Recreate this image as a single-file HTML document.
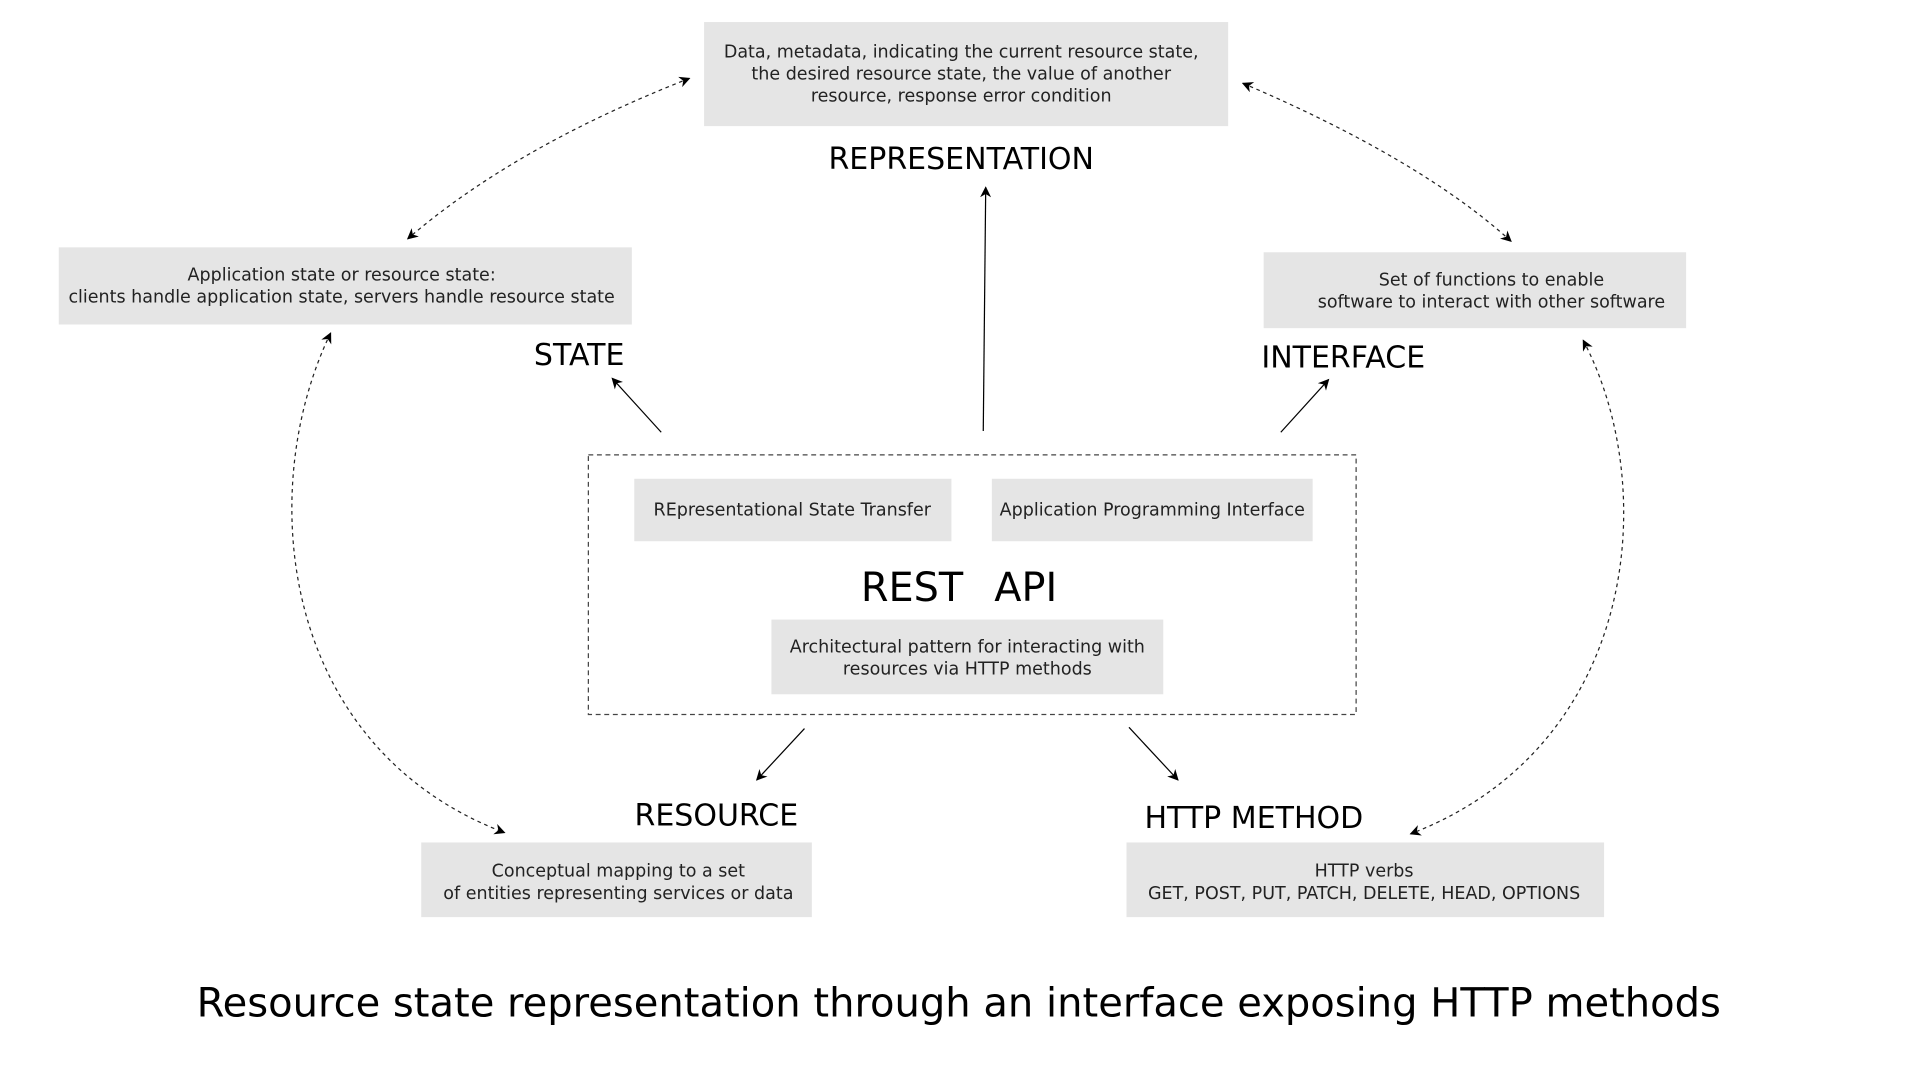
<!DOCTYPE html>
<html><head><meta charset="utf-8"><style>html,body{margin:0;padding:0;background:#fff;}svg{display:block}</style></head>
<body>
<svg width="1920" height="1080" viewBox="0 0 1568 882" xmlns="http://www.w3.org/2000/svg" font-family="'DejaVu Sans','Liberation Sans',sans-serif">
<defs>
<marker id="a" viewBox="0 0 10 10" refX="9" refY="5" markerWidth="9" markerHeight="9" orient="auto-start-reverse" markerUnits="userSpaceOnUse"><path d="M0,0 L10,5 L0,10 L3,5 z" fill="#000"/></marker>
</defs>
<g fill="#e5e5e5">
<rect x="575" y="18" width="428" height="85"/>
<rect x="48" y="202" width="468" height="63"/>
<rect x="1032" y="206" width="345" height="62"/>
<rect x="518" y="391" width="259" height="51"/>
<rect x="810" y="391" width="262" height="51"/>
<rect x="630" y="506" width="320" height="61"/>
<rect x="344" y="688" width="319" height="61"/>
<rect x="920" y="688" width="390" height="61"/>
</g>
<rect x="480.5" y="371.5" width="627" height="212" fill="none" stroke="#444" stroke-dasharray="4,3"/>
<g font-size="14.3" fill="#222" text-anchor="middle">
<text x="785" y="47">Data, metadata, indicating the current resource state,</text>
<text x="785" y="65">the desired resource state, the value of another</text>
<text x="785" y="83">resource, response error condition</text>
<text x="279" y="229">Application state or resource state:</text>
<text x="279" y="247">clients handle application state, servers handle resource state</text>
<text x="1218" y="233">Set of functions to enable</text>
<text x="1218" y="251">software to interact with other software</text>
<text x="647" y="421">REpresentational State Transfer</text>
<text x="941" y="421">Application Programming Interface</text>
<text x="790" y="533">Architectural pattern for interacting with</text>
<text x="790" y="551">resources via HTTP methods</text>
<text x="505" y="716">Conceptual mapping to a set</text>
<text x="505" y="734">of entities representing services or data</text>
<text x="1114" y="716">HTTP verbs</text>
<text x="1114" y="734">GET, POST, PUT, PATCH, DELETE, HEAD, OPTIONS</text>
</g>
<g font-size="24.5" fill="#000" text-anchor="middle">
<text x="785" y="138">REPRESENTATION</text>
<text x="473" y="298">STATE</text>
<text x="1097" y="300">INTERFACE</text>
<text x="585" y="674">RESOURCE</text>
<text x="1024" y="676">HTTP METHOD</text>
</g>
<text x="703" y="491" font-size="32.5" fill="#000">REST</text>
<text x="812" y="491" font-size="32.5" fill="#000">API</text>
<text x="783" y="830" font-size="32.7" text-anchor="middle" fill="#000">Resource state representation through an interface exposing HTTP methods</text>
<g stroke="#000" stroke-width="1" fill="none" marker-end="url(#a)">
<line x1="540" y1="353" x2="500" y2="309"/>
<line x1="803" y1="352" x2="805" y2="153"/>
<line x1="1046" y1="353" x2="1085" y2="310"/>
<line x1="657" y1="595" x2="618" y2="637"/>
<line x1="922" y1="594" x2="962" y2="637"/>
</g>
<g stroke="#222" stroke-width="1" fill="none" stroke-dasharray="3,3" marker-start="url(#a)" marker-end="url(#a)">
<path d="M563,64 Q420,120 333,195"/>
<path d="M1015,68 Q1160,130 1234,197"/>
<path d="M270,272 C208,400 228,610 412,680"/>
<path d="M1293,278 C1357,400 1337,610 1152,681"/>
</g>
</svg>
</body></html>
